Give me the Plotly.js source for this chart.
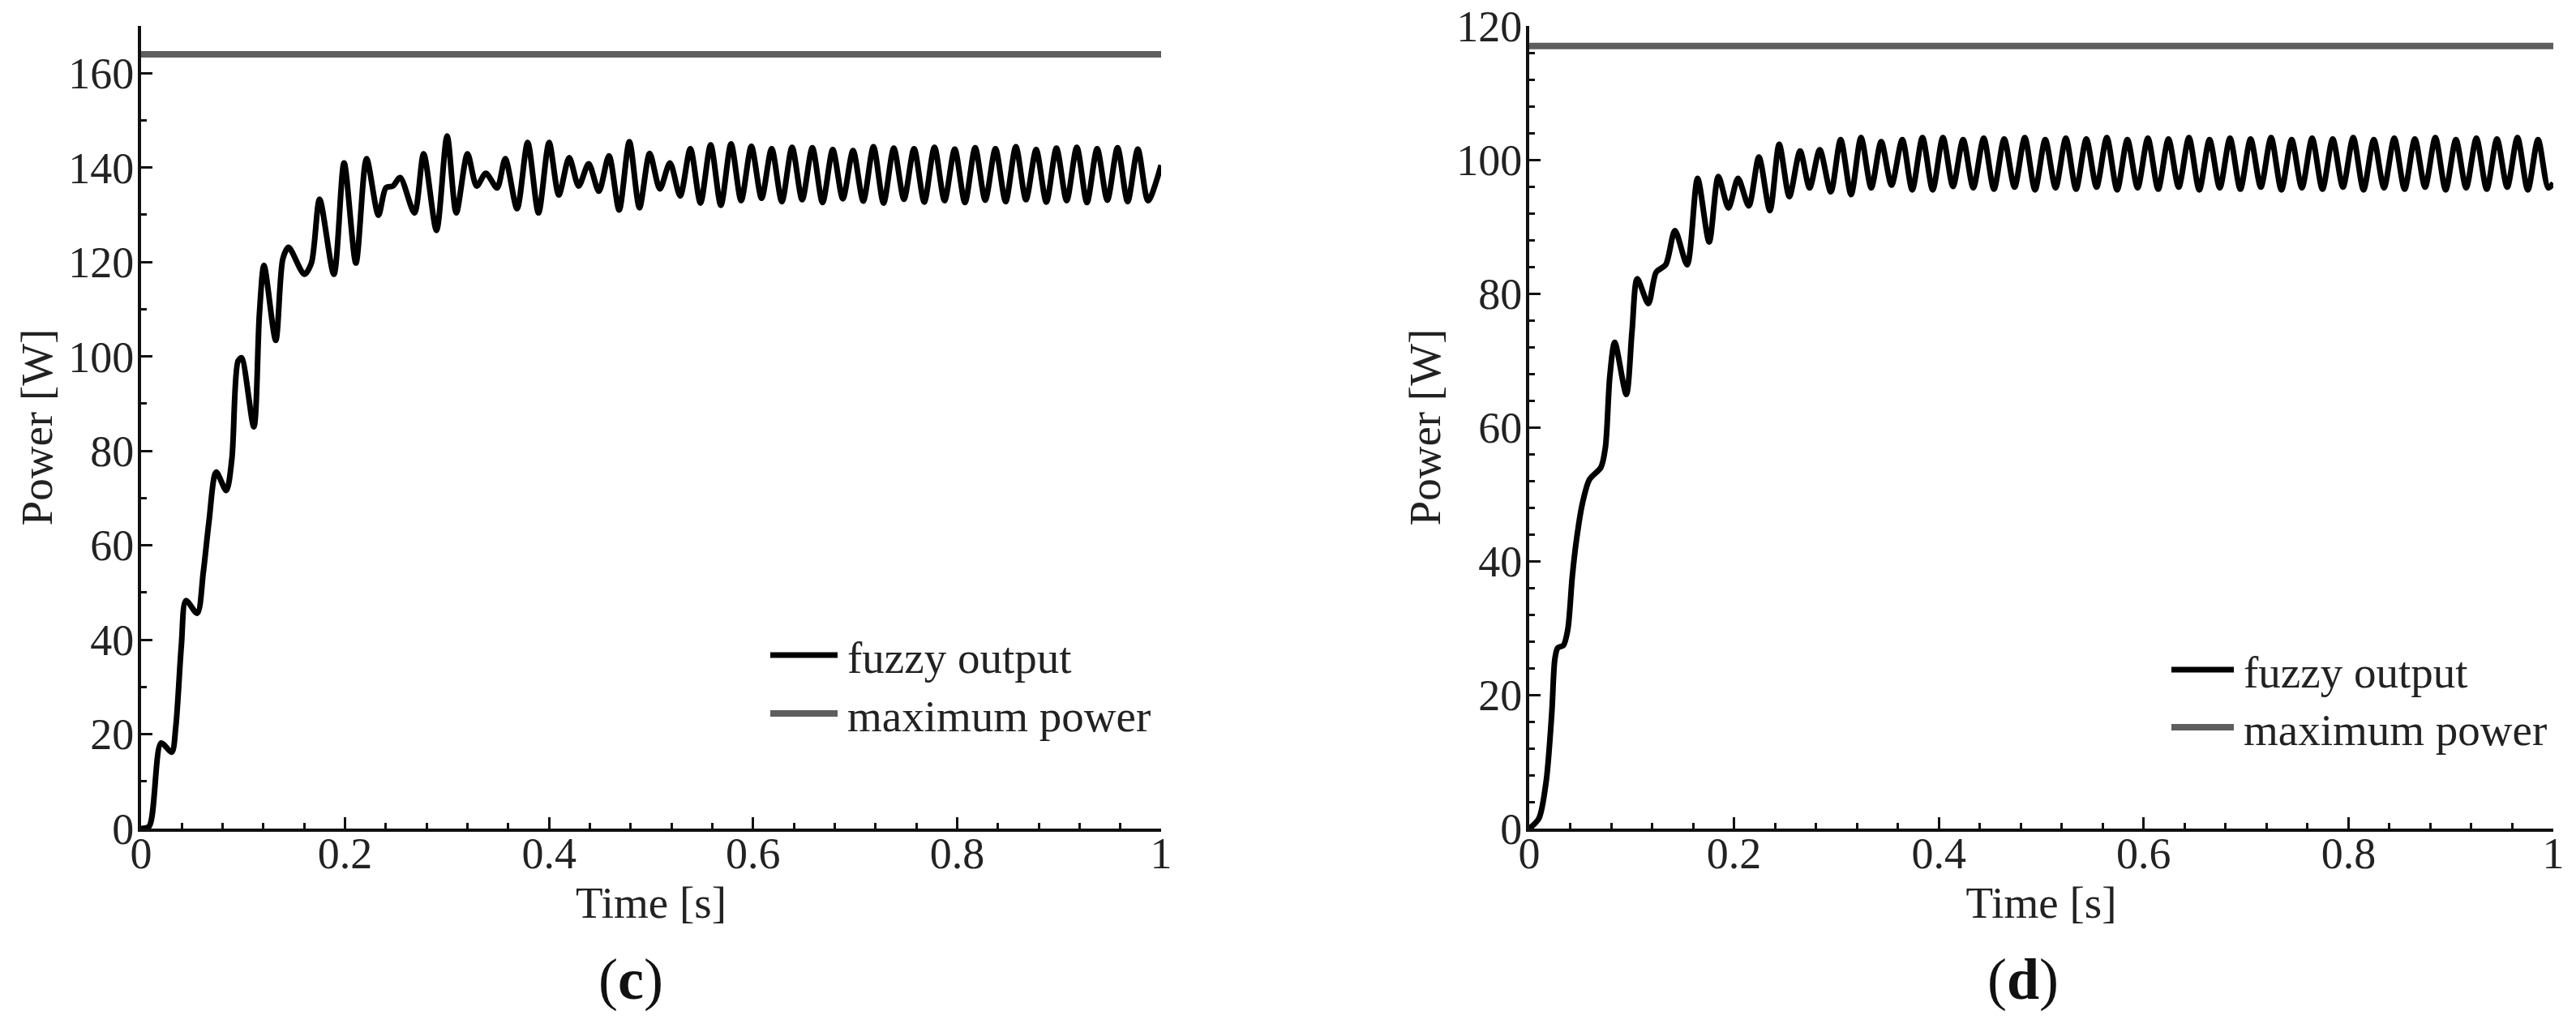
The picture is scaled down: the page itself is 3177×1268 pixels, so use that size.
<!DOCTYPE html>
<html>
<head>
<meta charset="utf-8">
<script src="https://cdn.plot.ly/plotly-3.0.1.min.js"></script>
<style>
    html, body { margin: 0; padding: 0; background: #fff; }
    #graph { width: 3177px; height: 1268px; }
</style>
</head>
<body>
<div id="graph"></div>
<script>
// panel (c): fuzzy controller output power
const timeC = [
    0, 0.008, 0.0196, 0.030, 0.034, 0.0395, 0.044, 0.055, 0.061, 0.0665,
    0.0736, 0.0835, 0.089, 0.095, 0.0985, 0.1105, 0.116, 0.1205, 0.132, 0.139,
    0.1446, 0.160, 0.167, 0.175, 0.189, 0.199, 0.2106, 0.221, 0.2327, 0.240,
    0.247, 0.254, 0.268, 0.277, 0.2896, 0.300, 0.309, 0.320, 0.329, 0.338,
    0.349, 0.357, 0.3686, 0.379, 0.3896, 0.400, 0.4095, 0.4197, 0.429, 0.4388,
    0.4488, 0.4587, 0.4687, 0.4787, 0.4886, 0.4986, 0.5086, 0.5185, 0.5285, 0.5385,
    0.5484, 0.5584, 0.5684, 0.5784, 0.5883, 0.5983, 0.6083, 0.6182, 0.6282, 0.6382,
    0.6481, 0.6581, 0.6681, 0.6781, 0.6880, 0.6980, 0.7080, 0.7180, 0.7279, 0.7379,
    0.7479, 0.7578, 0.7678, 0.7778, 0.7877, 0.7977, 0.8077, 0.8177, 0.8276, 0.8376,
    0.8476, 0.8576, 0.8675, 0.8775, 0.8875, 0.8974, 0.9074, 0.9174, 0.9273, 0.9373,
    0.9473, 0.9573, 0.9672, 0.9772, 0.9872, 1.0
];
const powerC = [
    0, 0.5, 18.1, 16.2, 21.5, 38.8, 48.3, 45.6, 54.3, 64.9,
    75.5, 71.6, 78.3, 99.0, 99.7, 85.1, 109.0, 119.3, 103.4, 120.7,
    123.1, 117.4, 119.8, 133.3, 117.4, 141.0, 119.8, 141.9, 129.9, 135.7,
    136.1, 137.9, 130.4, 142.9, 126.7, 146.7, 130.4, 142.9, 136.1, 138.8,
    135.7, 141.9, 131.3, 145.3, 130.4, 145.3, 134.2, 142.1, 136.1, 140.8,
    135.0, 142.5, 131.0, 145.5, 131.5, 143.0, 135.5, 141.0, 134.0, 144.0,
    132.5, 144.8, 132.0, 145.0, 133.0, 144.5, 133.5, 144.0, 132.8, 144.3,
    133.2, 144.2, 132.6, 143.8, 133.4, 143.6, 132.9, 144.4, 132.5, 144.1,
    133.3, 144.0, 132.7, 144.3, 133.0, 143.9, 132.6, 144.2, 133.1, 144.0,
    132.8, 144.4, 133.2, 143.8, 132.7, 144.1, 133.0, 144.3, 132.6, 144.0,
    133.1, 144.2, 132.8, 143.9, 133.0, 140.5
];
const maxPowerC = 164;

// panel (d)
const timeD = [
    0, 0.0094, 0.0165, 0.022, 0.025, 0.0278, 0.0334, 0.0377, 0.042, 0.046,
    0.0518, 0.0589, 0.070, 0.0744, 0.0787, 0.0835, 0.0948, 0.1004, 0.1055, 0.1163,
    0.124, 0.1333, 0.1423, 0.1542, 0.1644, 0.1757, 0.1847, 0.1946, 0.2039, 0.2144,
    0.2243, 0.235, 0.2441, 0.254, 0.2645, 0.2738, 0.2837, 0.2945, 0.3041, 0.3143,
    0.324, 0.334, 0.3437, 0.3538, 0.3643, 0.374, 0.384, 0.394, 0.404, 0.4138,
    0.4237, 0.4336, 0.4438, 0.4538, 0.4638, 0.4739, 0.4839, 0.4939, 0.5039, 0.514,
    0.524, 0.534, 0.544, 0.554, 0.564, 0.5741, 0.5841, 0.5941, 0.6041, 0.6142,
    0.6242, 0.6342, 0.6442, 0.6543, 0.6643, 0.6743, 0.6843, 0.6944, 0.7044, 0.7144,
    0.7244, 0.7345, 0.7445, 0.7545, 0.7645, 0.7746, 0.7846, 0.7946, 0.8046, 0.8147,
    0.8247, 0.8347, 0.8447, 0.8548, 0.8648, 0.8748, 0.8848, 0.8949, 0.9049, 0.9149,
    0.9249, 0.935, 0.945, 0.955, 0.965, 0.9751, 0.9851, 0.9951, 1.0
];
const powerD = [
    0, 1.5, 7.0, 17.2, 25.3, 27.0, 27.4, 29.8, 37.6, 43.0,
    48.5, 52.2, 54.0, 57.0, 67.6, 72.7, 64.9, 74.4, 82.2, 78.5,
    83.2, 84.3, 89.4, 84.3, 97.2, 87.7, 97.5, 92.8, 97.2, 93.1,
    100.4, 92.4, 102.3, 94.5, 101.3, 95.8, 101.5, 95.2, 103.0, 94.8,
    103.3, 95.8, 102.7, 96.2, 103.0, 95.5, 103.3, 95.5, 103.3, 96.0,
    103.0, 95.8, 103.2, 95.6, 103.1, 95.9, 103.3, 95.5, 103.0, 95.8,
    103.2, 95.6, 103.1, 95.9, 103.3, 95.5, 103.0, 95.8, 103.2, 95.6,
    103.1, 95.9, 103.3, 95.5, 103.0, 95.8, 103.2, 95.6, 103.1, 95.9,
    103.3, 95.5, 103.0, 95.8, 103.2, 95.6, 103.1, 95.9, 103.3, 95.5,
    103.0, 95.8, 103.2, 95.6, 103.1, 95.9, 103.3, 95.5, 103.0, 95.8,
    103.2, 95.6, 103.1, 95.9, 103.3, 95.5, 103.0, 95.8, 96.5
];
const maxPowerD = 117;

const seriesNames = ["fuzzy output", "maximum power"];
const panelLabels = ["c", "d"];

document.addEventListener("DOMContentLoaded", function () {
    const W = 3177, H = 1268;
    // pixel -> paper helpers, so the layout can be tuned in picture pixels
    const px = (x) => x / W;
    const py = (y) => 1 - y / H;

    const serif = "Liberation Serif, Times New Roman, serif";
    const ink = "#222";
    const fuzzyColor = "#000";
    const maxColor = "#5e5e5e";

    function fuzzyTrace(x, y, xa, ya) {
        return {
            x: x, y: y, xaxis: xa, yaxis: ya,
            type: "scatter", mode: "lines",
            name: seriesNames[0], showlegend: false,
            line: { color: fuzzyColor, width: 7, shape: "spline", smoothing: 0.8 },
            hoverinfo: "skip"
        };
    }

    function maxTrace(level, xa, ya) {
        return {
            x: [0, 1], y: [level, level], xaxis: xa, yaxis: ya,
            type: "scatter", mode: "lines",
            name: seriesNames[1], showlegend: false,
            line: { color: maxColor, width: 8 },
            hoverinfo: "skip"
        };
    }

    function xAxis(domain, anchor) {
        return {
            domain: domain, anchor: anchor, range: [0, 1],
            tick0: 0, dtick: 0.2,
            ticks: "inside", ticklen: 14, tickwidth: 3, tickcolor: "#111",
            minor: { tick0: 0, dtick: 0.04, ticks: "inside", ticklen: 7, tickwidth: 3, tickcolor: "#111" },
            showline: true, linewidth: 4, linecolor: "#111",
            showgrid: false, zeroline: false, fixedrange: true,
            ticklabelstandoff: -20,
            tickfont: { family: serif, size: 54, color: ink },
            title: { text: "Time [s]", font: { family: serif, size: 55, color: ink }, standoff: 0 }
        };
    }

    function yAxis(domain, anchor, top, minorStep) {
        return {
            domain: domain, anchor: anchor, range: [0, top],
            tick0: 0, dtick: 20,
            ticks: "inside", ticklen: 14, tickwidth: 3, tickcolor: "#111",
            minor: { tick0: 0, dtick: minorStep, ticks: "inside", ticklen: 7, tickwidth: 3, tickcolor: "#111" },
            showline: true, linewidth: 4, linecolor: "#111",
            showgrid: false, zeroline: false, fixedrange: true,
            ticklabelstandoff: -6,
            tickfont: { family: serif, size: 54, color: ink },
            title: { text: "Power [W]", font: { family: serif, size: 55, color: ink }, standoff: 3 }
        };
    }

    const yDom = [py(1022), py(32)];

    // legend drawn by hand so the line samples get their real length
    function legend(x0, x1, yRow1, yRow2) {
        const shapes = [
            { type: "line", xref: "paper", yref: "paper", x0: px(x0), x1: px(x1), y0: py(yRow1), y1: py(yRow1),
              line: { color: fuzzyColor, width: 7 } },
            { type: "line", xref: "paper", yref: "paper", x0: px(x0), x1: px(x1), y0: py(yRow2), y1: py(yRow2),
              line: { color: maxColor, width: 8 } }
        ];
        const notes = [yRow1, yRow2].map((yy, i) => ({
            xref: "paper", yref: "paper", x: px(x1 + 10), y: py(yy + 3),
            xanchor: "left", yanchor: "middle", showarrow: false,
            text: seriesNames[i],
            font: { family: serif, size: 55, color: ink }
        }));
        return { shapes: shapes, notes: notes };
    }

    const legC = legend(950, 1033, 808, 880);
    const legD = legend(2678, 2755, 826, 897);

    const labelNotes = [[778, panelLabels[0]], [2495, panelLabels[1]]].map(([x, s]) => ({
        xref: "paper", yref: "paper", x: px(x), y: py(1208),
        xanchor: "center", yanchor: "middle", showarrow: false,
        text: "(<b>" + s + "</b>)",
        font: { family: serif, size: 72, color: "#111" }
    }));

    const layout = {
        width: W, height: H,
        margin: { l: 0, r: 0, t: 0, b: 0 },
        paper_bgcolor: "#fff", plot_bgcolor: "#fff",
        showlegend: false,
        xaxis: xAxis([px(174), px(1432)], "y"),
        yaxis: yAxis(yDom, "x", 170, 10),
        xaxis2: xAxis([px(1886), px(3149)], "y2"),
        yaxis2: yAxis(yDom, "x2", 120, 4),
        shapes: legC.shapes.concat(legD.shapes),
        annotations: legC.notes.concat(legD.notes, labelNotes)
    };

    const data = [
        maxTrace(maxPowerC, "x", "y"),
        fuzzyTrace(timeC, powerC, "x", "y"),
        maxTrace(maxPowerD, "x2", "y2"),
        fuzzyTrace(timeD, powerD, "x2", "y2")
    ];

    Plotly.newPlot("graph", data, layout, { staticPlot: true, displayModeBar: false });
});
</script>
</body>
</html>
